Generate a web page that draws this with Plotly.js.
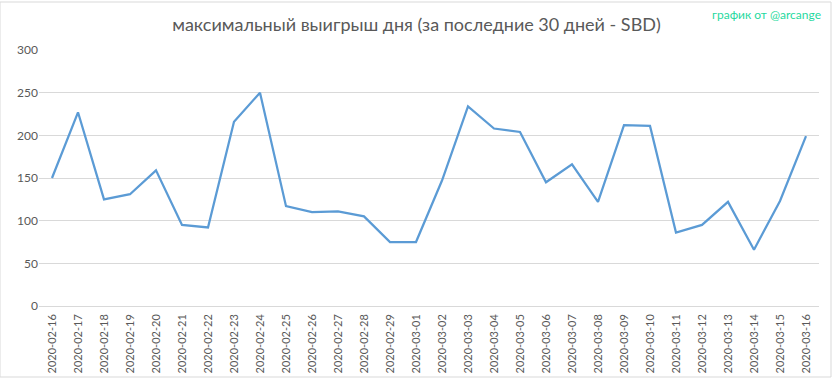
<!DOCTYPE html>
<html>
<head>
<meta charset="utf-8">
<script src="https://cdn.plot.ly/plotly-3.0.1.min.js"></script>
<style>
html,body{margin:0;padding:0;background:#fff;}
#chart{width:833px;height:379px;}
</style>
</head>
<body>
<div id="chart"></div>
<script>
const dates = ["2020-02-16","2020-02-17","2020-02-18","2020-02-19","2020-02-20","2020-02-21","2020-02-22","2020-02-23","2020-02-24","2020-02-25","2020-02-26","2020-02-27","2020-02-28","2020-02-29","2020-03-01","2020-03-02","2020-03-03","2020-03-04","2020-03-05","2020-03-06","2020-03-07","2020-03-08","2020-03-09","2020-03-10","2020-03-11","2020-03-12","2020-03-13","2020-03-14","2020-03-15","2020-03-16"];
const maxWin = [150,227,125,131,159,95,92,216,250,117,110,111,105,75,75,147,234,208,204,145,166,122,212,211,86,95,122,66,123,199];
const yTicks = [0,50,100,150,200,250,300];

const trace = {
  x: dates,
  y: maxWin,
  type: 'scatter',
  mode: 'lines',
  line: {color: '#5b9bd5', width: 2.25},
  hoverinfo: 'skip'
};

const layout = {
  width: 833,
  height: 379,
  margin: {l: 39, r: 14, t: 50, b: 73},
  paper_bgcolor: '#ffffff',
  plot_bgcolor: '#ffffff',
  font: {family: 'Lato, "Open Sans", sans-serif', color: '#595959'},
  title: {
    text: 'максимальный выигрыш дня (за последние 30 дней - SBD)',
    font: {size: 18, color: '#595959', family: 'Lato, "Open Sans", sans-serif'},
    x: 0.5, xanchor: 'center', y: 0.935, yanchor: 'middle'
  },
  showlegend: false,
  xaxis: {
    type: 'category',
    tickangle: -90,
    showgrid: false,
    showline: false,
    zeroline: false,
    ticks: '',
    ticklabelstandoff: 5,
    tickfont: {size: 11, color: '#595959'},
    range: [-0.5, dates.length - 0.5]
  },
  yaxis: {
    range: [0, 300],
    tickvals: yTicks,
    ticktext: yTicks.map(String),
    showgrid: true,
    gridcolor: '#d9d9d9',
    gridwidth: 1,
    zeroline: true,
    zerolinecolor: '#d9d9d9',
    zerolinewidth: 1,
    showline: false,
    ticks: '',
    ticklen: 0,
    tickfont: {size: 12, color: '#595959'}
  },
  annotations: [{
    text: 'график от @arcange',
    xref: 'paper', yref: 'paper',
    x: 1.005, y: 1.14,
    xanchor: 'right', yanchor: 'middle',
    showarrow: false,
    font: {size: 12, color: '#1fd9a0', family: 'Lato, "Open Sans", sans-serif'}
  }],
  shapes: [{
    type: 'rect', xref: 'paper', yref: 'paper',
    x0: -39/780, x1: 1 + 12/780, y0: -71/256, y1: 1 + 48/256,
    line: {color: '#d9d9d9', width: 1}, fillcolor: 'rgba(0,0,0,0)', layer: 'below'
  }]
};

Plotly.newPlot('chart', [trace], layout, {displayModeBar: false, staticPlot: true});
</script>
</body>
</html>
